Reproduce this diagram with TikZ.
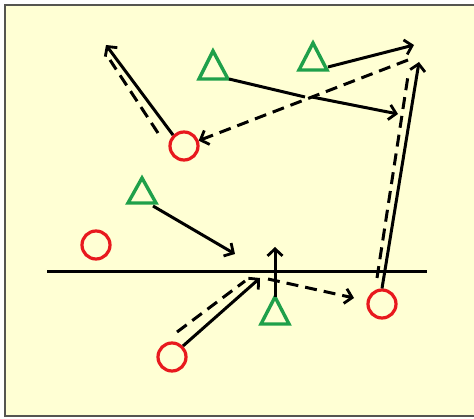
\documentclass[tikz,border=0pt]{standalone}
\usetikzlibrary{arrows.meta}
\definecolor{bgyel}{HTML}{FFFFD4}
\definecolor{framegray}{HTML}{555550}
\definecolor{redc}{HTML}{E8191E}
\definecolor{greent}{HTML}{1FA04A}
\tikzset{
  player/.style={circle, draw=redc, line width=3.2pt, minimum size=28pt, inner sep=0pt},
  tri/.style={draw=greent, line width=3.4pt, line join=miter},
  run/.style={line width=3pt, draw=black},
  pass/.style={line width=3pt, draw=black, dash pattern=on 12pt off 7pt},
  tip/.style={-{Straight Barb[length=7pt,width=15pt,line width=2.8pt]}},
}
\begin{document}
\begin{tikzpicture}[x=1pt,y=-1pt]
\useasboundingbox (0,0) rectangle (474,419);
\fill[white] (0,0) rectangle (474,419);
\fill[bgyel] (5,5) rectangle (474,416);
\draw[framegray, line width=2pt] (476,5) -- (5,5) -- (5,416) -- (476,416);

% circles
\node[player] (c1) at (184,146) {};
\node[player] (c2) at (96,245) {};
\node[player] (c3) at (172,357) {};
\node[player] (c4) at (382,304) {};

% triangles
\draw[tri] (213,51) -- (228,79) -- (199,79) -- cycle;
\coordinate (t1) at (229,79);
\draw[tri] (313,43) -- (327,70) -- (299,70) -- cycle;
\coordinate (t2) at (328,67);
\draw[tri] (142,178) -- (156,203) -- (128,203) -- cycle;
\coordinate (t3) at (153,206);
\draw[tri] (275,297) -- (289,324) -- (261,324) -- cycle;
\coordinate (t4) at (275,297);

% line of scrimmage
\coordinate (l1) at (47,272);
\coordinate (l2) at (427,272);
\draw[line width=3pt] (l1) -- (l2);

% named end points
\coordinate (a1) at (106,45);
\coordinate (d1s) at (158,133);
\coordinate (d1e) at (110,60);
\coordinate (k1) at (305,97);
\coordinate (k2) at (312,97);
\coordinate (a2) at (398,114);
\coordinate (d3s) at (408,60);
\coordinate (a4) at (414,45);
\coordinate (a5) at (419,62);
\coordinate (d5s) at (377,278);
\coordinate (d5e) at (408,76);
\coordinate (a6) at (235,254);
\coordinate (a7) at (275,247);
\coordinate (a8) at (260,278);
\coordinate (d8s) at (177,332);
\coordinate (d8e) at (245,281);
\coordinate (d9s) at (268,279);
\coordinate (a9) at (354,298);

% top-left runner
\draw[run,tip] (c1.135) -- (a1);
\draw[pass] (d1s) -- (d1e);
% T1 route
\draw[run] (t1) -- (k1);
\draw[run,tip] (k2) -- (a2);
% dashed pass back to c1
\draw[pass,tip] (d3s) -- (c1.20);
% T2 route
\draw[run,tip] (t2) -- (a4);
% right runner
\draw[run,tip] (c4.north) -- (a5);
\draw[pass] (d5s) -- (d5e);
% T3 route
\draw[run,tip] (t3) -- (a6);
% T4 up
\draw[run,tip] (t4) -- (a7);
% bottom runner
\draw[run,tip] (c3.45) -- (a8);
\draw[pass] (d8s) -- (d8e);
% dashed pass right
\draw[pass,tip] (d9s) -- (a9);
\end{tikzpicture}
\end{document}
